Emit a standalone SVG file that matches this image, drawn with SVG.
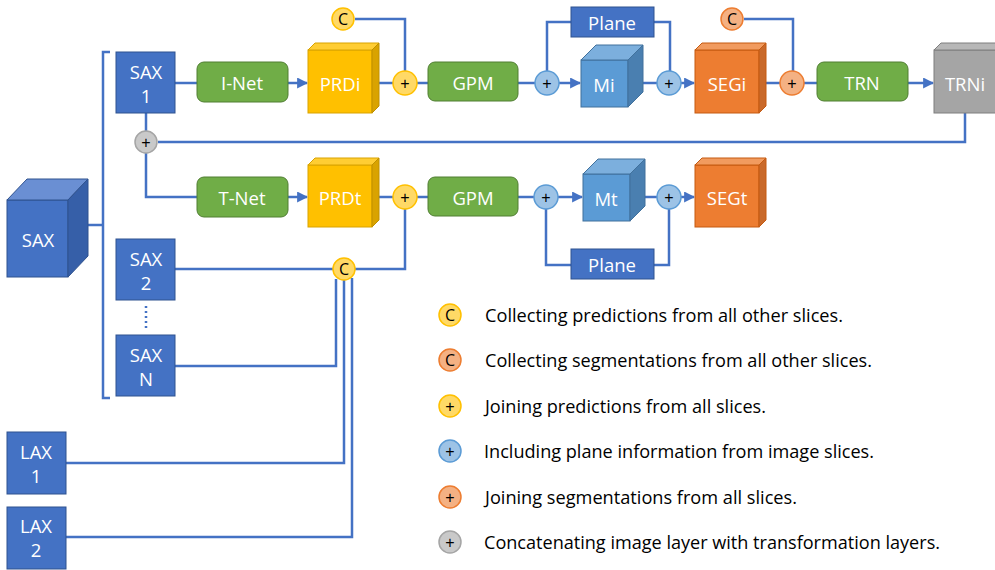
<svg xmlns="http://www.w3.org/2000/svg" width="995" height="570" viewBox="0 0 995 570">
<style>
.ln{fill:none;stroke:#4472C4;stroke-width:2.5}
.arr{marker-end:url(#ah)}
.box{fill:#4472C4;stroke:#2F528F;stroke-width:1}
.grn{fill:#70AD47;stroke:#507E32;stroke-width:1}
.t{font-family:"Open Sans","Liberation Sans",sans-serif;font-size:18.5px;fill:#fff;text-anchor:middle;dominant-baseline:central}
.ct{font-family:"Open Sans","Liberation Sans",sans-serif;font-size:16px;fill:#000;text-anchor:middle;dominant-baseline:central}
.cp{font-family:"Liberation Sans",sans-serif;font-size:16px;fill:#000;text-anchor:middle;dominant-baseline:central}
.lg{font-family:"Open Sans","Liberation Sans",sans-serif;font-size:18.5px;fill:#000;dominant-baseline:central}
.cy{fill:#FFD966;stroke:#FFC000;stroke-width:1.5}
.cb{fill:#9DC3E6;stroke:#5B9BD5;stroke-width:1.5}
.co{fill:#F4B183;stroke:#ED7D31;stroke-width:1.5}
.cg{fill:#C9C9C9;stroke:#A5A5A5;stroke-width:1.5}
</style>
<defs>
<marker id="ah" viewBox="0 0 10 10" refX="9" refY="5" markerWidth="4.4" markerHeight="4.4" orient="auto" markerUnits="strokeWidth">
<path d="M0,0 L10,5 L0,10 z" fill="#4472C4"/>
</marker>
</defs>
<rect width="995" height="570" fill="#fff"/>

<g id="connectors">
<path class="ln" d="M88,225 H103"/>
<path class="ln" d="M110,52 H103 V398 H110"/>
<path class="ln" d="M175,83 H197"/>
<path class="ln arr" d="M288,83 H307"/>
<path class="ln" d="M372,83 H393"/>
<path class="ln" d="M417,83 H428"/>
<path class="ln" d="M518,83 H535"/>
<path class="ln arr" d="M559,83 H580"/>
<path class="ln" d="M643,83 H657"/>
<path class="ln arr" d="M681,83 H694"/>
<path class="ln" d="M765,83 H780"/>
<path class="ln" d="M804,83 H817"/>
<path class="ln arr" d="M908,83 H933"/>
<path class="ln" d="M355,19 H405 V71"/>
<path class="ln" d="M547,71 V22 H571"/>
<path class="ln" d="M654,22 H670 V71"/>
<path class="ln" d="M744,19 H793 V71"/>
<path class="ln" d="M965,113 V142 H158"/>
<path class="ln" d="M146,113 V131"/>
<path class="ln" d="M146,153 V197 H197"/>
<path class="ln arr" d="M288,197 H307"/>
<path class="ln" d="M372,197 H393"/>
<path class="ln" d="M417,197 H428"/>
<path class="ln" d="M518,197 H534"/>
<path class="ln arr" d="M558,197 H582"/>
<path class="ln" d="M645,197 H657"/>
<path class="ln arr" d="M681,197 H694"/>
<path class="ln" d="M546,209 V265 H571"/>
<path class="ln" d="M654,265 H669 V209"/>
<path class="ln" d="M355,269 H405 V209"/>
<path class="ln" d="M175,269 H333"/>
<path class="ln" d="M175,366 H336 V279"/>
<path class="ln" d="M66,463 H344 V280"/>
<path class="ln" d="M66,537 H352 V278"/>
<path d="M146,306 V330" fill="none" stroke="#4472C4" stroke-width="2.5" stroke-dasharray="2,3"/>
</g>

<g id="SAX">
<rect x="7" y="200" width="61" height="77" fill="#4472C4" stroke="#2F528F"/>
<polygon points="7,200 27,179 88,179 68,200" fill="#6A8FD3" stroke="#2F528F"/>
<polygon points="68,200 88,179 88,256 68,277" fill="#365FA8" stroke="#2F528F"/>
<text class="t" x="38" y="239">SAX</text>
</g>
<g id="SAX1"><rect class="box" x="116" y="52" width="59" height="61"/><text class="t" x="146" y="71">SAX</text><text class="t" x="146" y="95">1</text></g>
<g id="SAX2"><rect class="box" x="116" y="239" width="59" height="61"/><text class="t" x="146" y="258">SAX</text><text class="t" x="146" y="282">2</text></g>
<g id="SAXN"><rect class="box" x="116" y="335" width="59" height="61"/><text class="t" x="146" y="354">SAX</text><text class="t" x="146" y="378">N</text></g>
<g id="LAX1"><rect class="box" x="7" y="432" width="59" height="62"/><text class="t" x="36" y="451">LAX</text><text class="t" x="36" y="475">1</text></g>
<g id="LAX2"><rect class="box" x="7" y="507" width="59" height="62"/><text class="t" x="36" y="525">LAX</text><text class="t" x="36" y="549">2</text></g>

<g id="INet"><rect class="grn" x="197" y="62" width="91" height="40" rx="7"/><text class="t" x="242" y="82">I-Net</text></g>
<g id="TNet"><rect class="grn" x="197" y="177" width="91" height="40" rx="7"/><text class="t" x="242" y="197">T-Net</text></g>
<g id="GPM1"><rect class="grn" x="428" y="62" width="90" height="39" rx="7"/><text class="t" x="473" y="82">GPM</text></g>
<g id="GPM2"><rect class="grn" x="428" y="177" width="90" height="39" rx="7"/><text class="t" x="473" y="197">GPM</text></g>
<g id="TRN"><rect class="grn" x="817" y="62" width="91" height="39" rx="7"/><text class="t" x="862" y="82">TRN</text></g>

<g id="PRDi">
<rect x="308" y="50" width="64" height="63" fill="#FFC000" stroke="#D9A300"/>
<polygon points="308,50 315,43 379,43 372,50" fill="#FFCD33" stroke="#D9A300"/>
<polygon points="372,50 379,43 379,106 372,113" fill="#D9A300" stroke="#BF9000"/>
<text class="t" x="340" y="83">PRDi</text>
</g>
<g id="PRDt">
<rect x="308" y="165" width="64" height="62" fill="#FFC000" stroke="#D9A300"/>
<polygon points="308,165 315,158 379,158 372,165" fill="#FFCD33" stroke="#D9A300"/>
<polygon points="372,165 379,158 379,220 372,227" fill="#D9A300" stroke="#BF9000"/>
<text class="t" x="340" y="197">PRDt</text>
</g>
<g id="Mi">
<rect x="581" y="60" width="47" height="47" fill="#5B9BD5" stroke="#41719C"/>
<polygon points="581,60 596,45 643,45 628,60" fill="#7CAFDD" stroke="#41719C"/>
<polygon points="628,60 643,45 643,92 628,107" fill="#4A7FB0" stroke="#41719C"/>
<text class="t" x="604" y="84">Mi</text>
</g>
<g id="Mt">
<rect x="583" y="174" width="47" height="47" fill="#5B9BD5" stroke="#41719C"/>
<polygon points="583,174 598,159 645,159 630,174" fill="#7CAFDD" stroke="#41719C"/>
<polygon points="630,174 645,159 645,206 630,221" fill="#4A7FB0" stroke="#41719C"/>
<text class="t" x="606" y="198">Mt</text>
</g>
<g id="SEGi">
<rect x="695" y="50" width="64" height="63" fill="#ED7D31" stroke="#C55A11"/>
<polygon points="695,50 702,43 766,43 759,50" fill="#F19B5F" stroke="#C55A11"/>
<polygon points="759,50 766,43 766,106 759,113" fill="#C9692A" stroke="#C55A11"/>
<text class="t" x="727" y="83">SEGi</text>
</g>
<g id="SEGt">
<rect x="695" y="165" width="64" height="62" fill="#ED7D31" stroke="#C55A11"/>
<polygon points="695,165 702,158 766,158 759,165" fill="#F19B5F" stroke="#C55A11"/>
<polygon points="759,165 766,158 766,220 759,227" fill="#C9692A" stroke="#C55A11"/>
<text class="t" x="727" y="197">SEGt</text>
</g>
<g id="TRNi">
<rect x="934" y="50" width="64" height="63" fill="#A5A5A5" stroke="#7F7F7F"/>
<polygon points="934,50 941,43 1005,43 998,50" fill="#B7B7B7" stroke="#7F7F7F"/>
<text class="t" x="965" y="83">TRNi</text>
</g>
<g id="PlaneTop"><rect class="box" x="571" y="7" width="83" height="30"/><text class="t" x="612" y="22">Plane</text></g>
<g id="PlaneBot"><rect class="box" x="571" y="249" width="83" height="30"/><text class="t" x="612" y="264">Plane</text></g>

<g id="C1"><circle class="cy" cx="343" cy="19" r="11"/><text class="ct" x="343" y="19">C</text></g>
<g id="C2"><circle class="co" cx="732" cy="19" r="11"/><text class="ct" x="732" y="19">C</text></g>
<g id="C3"><circle class="cy" cx="344" cy="269" r="11"/><text class="ct" x="344" y="269">C</text></g>
<g id="P1"><circle class="cy" cx="405" cy="83" r="12"/><text class="cp" x="405" y="83">+</text></g>
<g id="P2"><circle class="cb" cx="547" cy="83" r="12"/><text class="cp" x="547" y="83">+</text></g>
<g id="P3"><circle class="cb" cx="669" cy="83" r="12"/><text class="cp" x="669" y="83">+</text></g>
<g id="P4"><circle class="co" cx="792" cy="83" r="12"/><text class="cp" x="792" y="83">+</text></g>
<g id="P5"><circle class="cg" cx="146" cy="142" r="11"/><text class="cp" x="146" y="142">+</text></g>
<g id="P6"><circle class="cy" cx="405" cy="197" r="12"/><text class="cp" x="405" y="197">+</text></g>
<g id="P7"><circle class="cb" cx="546" cy="197" r="12"/><text class="cp" x="546" y="197">+</text></g>
<g id="P8"><circle class="cb" cx="669" cy="197" r="12"/><text class="cp" x="669" y="197">+</text></g>

<g id="legend">
<circle class="cy" cx="450" cy="315" r="11"/><text class="ct" x="450" y="315">C</text>
<text class="lg" x="485" y="314" textLength="358" lengthAdjust="spacingAndGlyphs">Collecting predictions from all other slices.</text>
<circle class="co" cx="450" cy="360" r="11"/><text class="ct" x="450" y="360">C</text>
<text class="lg" x="485" y="359" textLength="387" lengthAdjust="spacingAndGlyphs">Collecting segmentations from all other slices.</text>
<circle class="cy" cx="450" cy="406" r="11"/><text class="cp" x="450" y="406">+</text>
<text class="lg" x="485" y="405" textLength="281" lengthAdjust="spacingAndGlyphs">Joining predictions from all slices.</text>
<circle class="cb" cx="450" cy="451" r="11"/><text class="cp" x="450" y="451">+</text>
<text class="lg" x="484" y="450" textLength="390" lengthAdjust="spacingAndGlyphs">Including plane information from image slices.</text>
<circle class="co" cx="450" cy="497" r="11"/><text class="cp" x="450" y="497">+</text>
<text class="lg" x="485" y="496" textLength="312" lengthAdjust="spacingAndGlyphs">Joining segmentations from all slices.</text>
<circle class="cg" cx="450" cy="542" r="11"/><text class="cp" x="450" y="542">+</text>
<text class="lg" x="484" y="541" textLength="456" lengthAdjust="spacingAndGlyphs">Concatenating image layer with transformation layers.</text>
</g>
</svg>
